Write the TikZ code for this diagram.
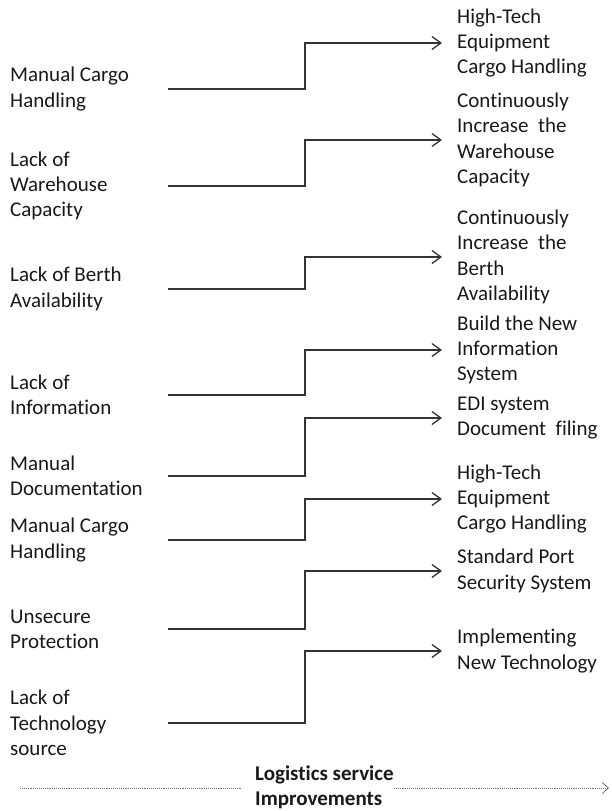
\documentclass[tikz,border=0pt]{standalone}
\usepackage{fontspec}
\setmainfont{Carlito}[Ligatures={NoCommon,NoRequired,NoContextual}]
\usetikzlibrary{arrows.meta}
\begin{document}
\begin{tikzpicture}[x=1pt,y=-1pt,
  txt/.style={font=\fontsize{21}{25.3}\selectfont, text=black!90, align=left, inner sep=0pt},
  cause/.style={txt, anchor=west, text width=158pt, align=flush left},
  remedy/.style={txt, anchor=west, inner xsep=15pt, inner ysep=0pt},
  goal/.style={txt, font=\fontsize{21}{25.3}\selectfont\bfseries, anchor=west},
  link/.style={draw=black!80, line width=1.3pt, -{Straight Barb[length=9pt,width=13pt,line width=1.3pt]}},
  trend/.style={draw=black!55, line width=0.9pt, densely dotted},
]
\useasboundingbox[fill=white] (0,0) rectangle (611,811);

% problems on the left
\node[cause] (l1) at (10,89)  {Manual Cargo\\Handling};
\node[cause] (l2) at (10,186) {Lack of\\Warehouse\\Capacity};
\node[cause] (l3) at (10,289) {Lack of Berth\\Availability};
\node[cause] (l4) at (10,395) {Lack of\\Information};
\node[cause] (l5) at (10,476) {Manual\\Documentation};
\node[cause] (l6) at (10,540) {Manual Cargo\\Handling};
\node[cause] (l7) at (10,629) {Unsecure\\Protection};
\node[cause] (l8) at (10,723) {Lack of\\Technology\\source};

% improvements on the right
\node[remedy] (r1) at (442,43)  {High-Tech\\Equipment\\Cargo Handling};
\node[remedy] (r2) at (442,140) {Continuously\\Increase\ \ the\\Warehouse\\Capacity};
\node[remedy] (r3) at (442,257) {Continuously\\Increase\ \ the\\Berth\\Availability};
\node[remedy] (r4) at (442,350) {Build the New\\Information\\System};
\node[remedy] (r5) at (442,418) {EDI system\\Document\ \ filing};
\node[remedy] (r6) at (442,499) {High-Tech\\Equipment\\Cargo Handling};
\node[remedy] (r7) at (442,571) {Standard Port\\Security System};
\node[remedy] (r8) at (442,651) {Implementing\\New Technology};

% step connectors, all bending at the same column
\coordinate (bend) at (305,0);
\foreach \i in {1,...,8}{
  \draw[link] (l\i.east) -| (bend |- r\i.west) -- (r\i.west);
}

% overall direction at the bottom
\node[goal] (g) at (255,787) {Logistics service\\Improvements};
\coordinate (gl) at (20,788);
\coordinate (gr) at (609,788);
\draw[trend, shorten >=13pt] (gl) -- (gl -| g.west);
\draw[trend, -{Straight Barb[length=6pt,width=11pt,line width=0.9pt]}] (gr -| g.east) -- (gr);
\end{tikzpicture}
\end{document}
